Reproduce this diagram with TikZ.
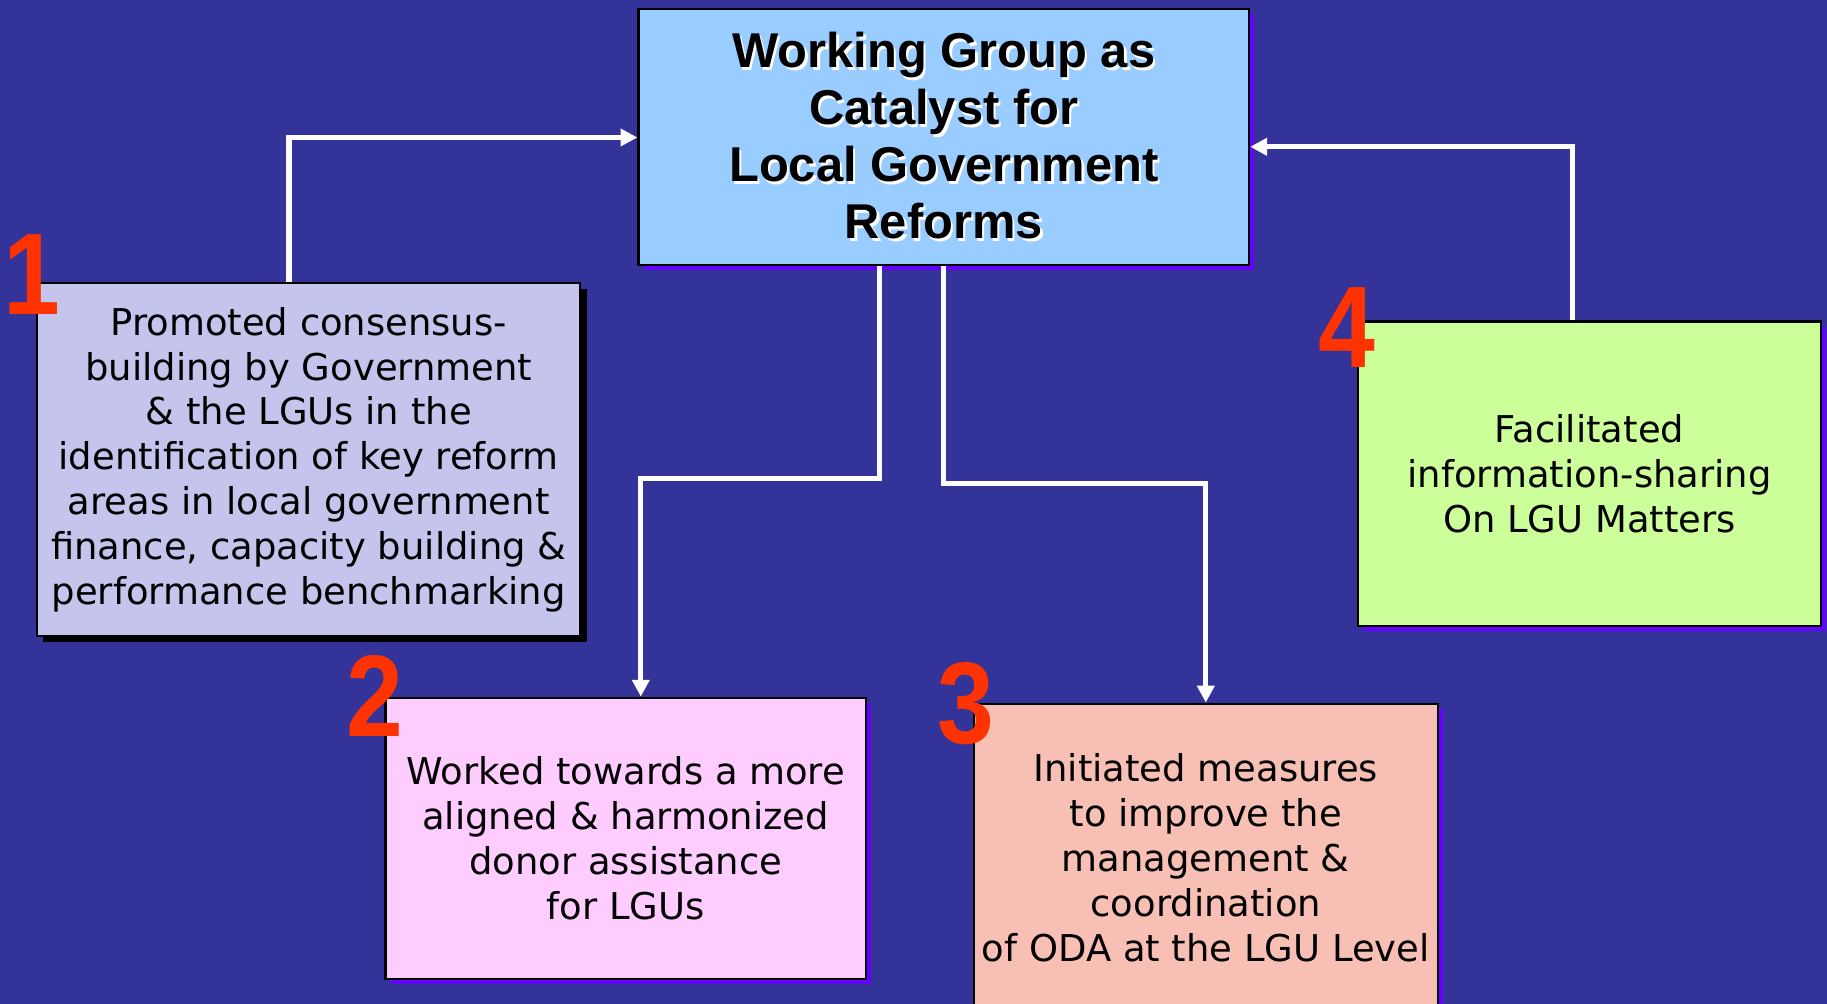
\documentclass[tikz,border=0pt]{standalone}
\usepackage{fontspec}
\setmainfont{DejaVu Sans}
\newfontfamily\titlefont{Liberation Sans}
\newfontfamily\numfont[FakeStretch=0.88]{Liberation Sans}
\usepackage{tikz}
\usetikzlibrary{arrows.meta,shadows}
\definecolor{slidebg}{RGB}{51,51,153}
\definecolor{wgblue}{RGB}{153,204,255}
\definecolor{lavender}{RGB}{196,196,236}
\definecolor{pinkbox}{RGB}{255,204,255}
\definecolor{salmonbox}{RGB}{248,192,180}
\definecolor{limebox}{RGB}{204,255,153}
\definecolor{violetshade}{RGB}{102,0,255}
\definecolor{numred}{RGB}{255,51,0}
\newcommand{\lit}[1]{\rlap{\hspace{0.7pt}\raisebox{-0.7pt}{\color{white}#1}}#1}
\tikzset{>/.tip={Triangle[length=4.8pt,width=4.8pt]},
  box/.style={draw=black, line width=0.6pt, inner sep=0pt, align=center, text=black,
    font=\fontsize{10.5}{12.75}\selectfont},
  vshadow/.style={drop shadow={shadow xshift=1.5pt, shadow yshift=-1.5pt, fill=violetshade, opacity=1}},
  kshadow/.style={drop shadow={shadow xshift=1.8pt, shadow yshift=-1.8pt, fill=black, opacity=1}},
  num/.style={text=numred, inner sep=0pt, font=\numfont\bfseries\fontsize{33}{33}\selectfont},
  link/.style={->, draw=white, line width=1.5pt}}

\begin{document}
\begin{tikzpicture}[x=0.01cm, y=-0.01cm]
\clip (0,0) rectangle (1827,1004);
\fill[slidebg] (0,0) rectangle (1827,1004);

\node[box, vshadow, fill=wgblue, minimum width=6.103cm, minimum height=2.552cm,
  font=\titlefont\bfseries\fontsize{13.9}{16.2}\selectfont] (WG) at (943.8,136.9)
  {\lit{Working Group as}\\ \lit{Catalyst for}\\ \lit{Local Government}\\ \lit{Reforms}};
\node[box, kshadow, fill=lavender, minimum width=5.429cm, minimum height=3.531cm] (B1) at (308.7,459.5)
  {Promoted consensus-\\ building by Government\\ \& the LGUs in the\\ identification of key reform\\ areas in local government\\ finance, capacity building \&\\ performance benchmarking};
\node[box, vshadow, fill=pinkbox, minimum width=4.8cm, minimum height=2.808cm] (B2) at (625.6,838.2)
  {Worked towards a more\\ aligned \& harmonized\\ donor assistance\\ for LGUs};
\node[box, vshadow, fill=salmonbox, minimum width=4.636cm, minimum height=3.083cm] (B3) at (1205.8,857.9)
  {Initiated measures\\ to improve the\\ management \&\\ coordination\\ of ODA at the LGU Level};
\node[box, vshadow, fill=limebox, minimum width=4.63cm, minimum height=3.041cm] (B4) at (1589.5,473.6)
  {Facilitated\\ information-sharing\\ On LGU Matters};

\node[num] (N1) at (32,275) {1};
\node[num] (N2) at (375,696) {2};
\node[num] (N3) at (966,704) {3};
\node[num] (N4) at (1347,328) {4};

% connectors
\coordinate (a1) at (289,137.5);
\coordinate (a4) at (1572.8,146.8);
\coordinate (j2) at (879.6,478.8);
\coordinate (k2) at (640.8,478.8);
\coordinate (j3) at (943.7,483.5);
\coordinate (k3) at (1205.8,483.5);
\draw[link] (a1 |- B1.north) |- (WG.west |- a1);
\draw[link] (a4 |- B4.north) |- (WG.east |- a4);
\draw[link] (WG.south -| j2) -- (j2) -- (k2) -- (k2 |- B2.north);
\draw[link] (WG.south -| j3) -- (j3) -- (k3) -- (B3.north);
\end{tikzpicture}
\end{document}
